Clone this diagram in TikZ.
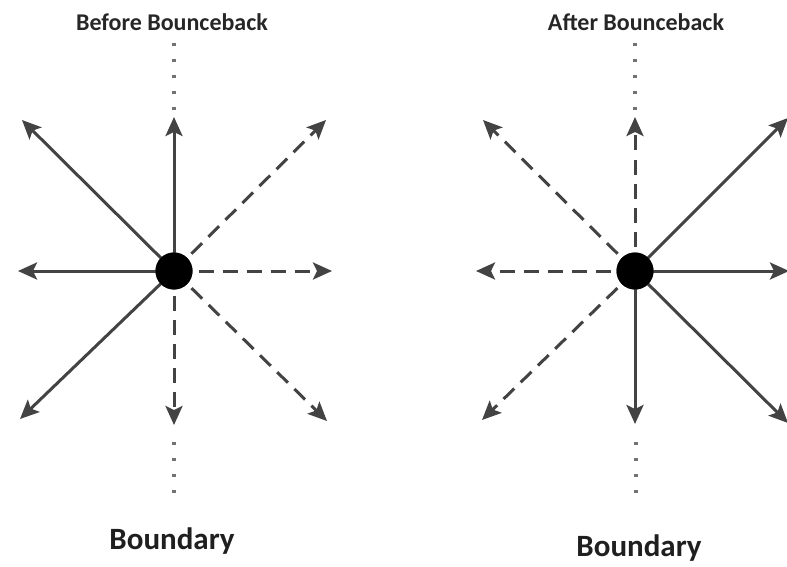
\documentclass[tikz,border=0pt]{standalone}
\usepackage{fontspec}
\setmainfont{Carlito}
\usetikzlibrary{arrows.meta}
\definecolor{ink}{HTML}{434343}
\tikzset{
  vec/.style={draw=ink, line width=3pt, -{Stealth[length=19pt,width=17pt,inset=4pt]}},
  solidvec/.style={vec},
  dashvec/.style={vec, dash pattern=on 15pt off 9pt},
  dotline/.style={draw=ink!75, line width=3.2pt, dash pattern=on 3.2pt off 12.8pt},
  particle/.style={circle, fill=black, minimum size=37pt, inner sep=0pt, outer sep=6pt},
  title/.style={font=\bfseries\fontsize{24}{28}\selectfont, text=black!85},
  bnd/.style={font=\bfseries\fontsize{31}{36}\selectfont, text=black!88},
}
\begin{document}
\begin{tikzpicture}[x=1pt, y=-1pt]
  \useasboundingbox (0,0) rectangle (787,567);

  % ---------- before bounceback ----------
  \node[title] (t1) at (172,22) {Before Bounceback};
  \coordinate (a1top) at (174,43);
  \coordinate (a1topend) at (174,110);
  \coordinate (a1bot) at (174,442);
  \coordinate (a1botend) at (174,495);
  \draw[dotline] (a1top) -- (a1topend);
  \draw[dotline] (a1bot) -- (a1botend);

  \coordinate (p1n)  at (174,117);
  \coordinate (p1ne) at (326,120);
  \coordinate (p1e)  at (332,271);
  \coordinate (p1se) at (327,421);
  \coordinate (p1s)  at (174,425);
  \coordinate (p1sw) at (20,419);
  \coordinate (p1w)  at (18,271);
  \coordinate (p1nw) at (22,120);

  \node[particle] (c1) at (174,271) {};
  \draw[solidvec] (c1.center) -- (p1n);
  \draw[solidvec] (c1.center) -- (p1nw);
  \draw[solidvec] (c1.center) -- (p1w);
  \draw[solidvec] (c1.center) -- (p1sw);
  \draw[dashvec] (c1) -- (p1ne);
  \draw[dashvec] (c1) -- (p1e);
  \draw[dashvec] (c1) -- (p1s);
  \draw[dashvec] (c1) -- (p1se);
  \node[particle] at (c1) {};

  \node[bnd] (b1) at (172,541) {Boundary};

  % ---------- after bounceback ----------
  \node[title] (t2) at (636,22) {After Bounceback};
  \coordinate (a2top) at (635,43);
  \coordinate (a2topend) at (635,110);
  \coordinate (a2bot) at (636,442);
  \coordinate (a2botend) at (636,495);
  \draw[dotline] (a2top) -- (a2topend);
  \draw[dotline] (a2bot) -- (a2botend);

  \coordinate (p2n)  at (635,117);
  \coordinate (p2ne) at (788,118);
  \coordinate (p2e)  at (789,271);
  \coordinate (p2se) at (788,423);
  \coordinate (p2s)  at (635,424);
  \coordinate (p2sw) at (482,420);
  \coordinate (p2w)  at (476,271);
  \coordinate (p2nw) at (483,120);

  \node[particle] (c2) at (635,271) {};
  \draw[solidvec] (c2.center) -- (p2ne);
  \draw[solidvec] (c2.center) -- (p2e);
  \draw[solidvec] (c2.center) -- (p2s);
  \draw[solidvec] (c2.center) -- (p2se);
  \draw[dashvec] (c2) -- (p2n);
  \draw[dashvec] (c2) -- (p2nw);
  \draw[dashvec] (c2) -- (p2w);
  \draw[dashvec] (c2) -- (p2sw);
  \node[particle] at (c2) {};

  \node[bnd] (b2) at (639,548) {Boundary};
\end{tikzpicture}
\end{document}
